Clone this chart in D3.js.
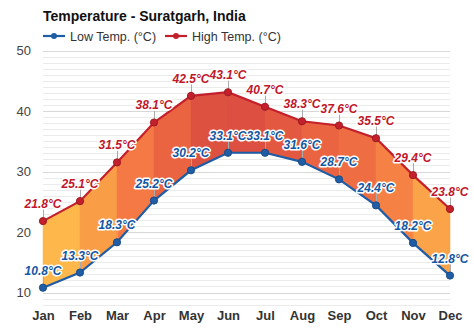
<!DOCTYPE html>
<html>
<head>
<meta charset="utf-8">
<script src="https://cdn.jsdelivr.net/npm/d3@7"></script>
<style>
  html, body { margin: 0; padding: 0; background: #fff; }
  svg { display: block; font-family: "Liberation Sans", Arial, sans-serif; }
</style>
</head>
<body>
<svg id="chart" width="474" height="331"></svg>
<script>
const months = ["Jan","Feb","Mar","Apr","May","Jun","Jul","Aug","Sep","Oct","Nov","Dec"];
const lowTemps = [10.8, 13.3, 18.3, 25.2, 30.2, 33.1, 33.1, 31.6, 28.7, 24.4, 18.2, 12.8];
const highTemps = [21.8, 25.1, 31.5, 38.1, 42.5, 43.1, 40.7, 38.3, 37.6, 35.5, 29.4, 23.8];
const yTicks = [10, 20, 30, 40, 50];
const titleText = "Temperature - Suratgarh, India";
const seriesNames = ["Low Temp. (°C)", "High Temp. (°C)"];

const svg = d3.select("#chart");
const x = d3.scalePoint().domain(months).range([43, 450]);
const y = d3.scaleLinear().domain([8, 50]).range([304.6, 50.5]);

const lowColor = "#1f5da6";
const highColor = "#c4202b";

// colour of the band between two months, by average temperature
const bandColor = d3.scaleLinear()
  .domain([17.5, 22, 28, 34, 37.5])
  .range(["#fdb84b", "#f99d47", "#f47a45", "#ea6442", "#dc4f41"])
  .clamp(true);

// gridlines
const minor = d3.range(8, 51, 1);
svg.append("g").selectAll("line").data(minor).join("line")
  .attr("x1", 43).attr("x2", 450)
  .attr("y1", d => Math.round(y(d)) + 0.5).attr("y2", d => Math.round(y(d)) + 0.5)
  .attr("stroke", d => d % 10 === 0 ? "#d8d8d8" : "#ebebeb")
  .attr("stroke-width", 1);

// y axis labels
const yAxis = d3.axisLeft(y).tickValues(yTicks).tickSize(0).tickPadding(0);
const yg = svg.append("g").attr("transform", "translate(31,0)").call(yAxis);
yg.select(".domain").remove();
yg.selectAll("text").attr("font-size", 13).attr("fill", "#444")
  .attr("font-family", "\"Liberation Sans\", Arial, sans-serif");

// x axis labels
const xAxis = d3.axisBottom(x).tickSize(0).tickPadding(0);
const xg = svg.append("g").attr("transform", "translate(0,311)").call(xAxis);
xg.select(".domain").remove();
xg.selectAll("text").attr("font-size", 13).attr("font-weight", "bold").attr("fill", "#333")
  .attr("font-family", "\"Liberation Sans\", Arial, sans-serif");

// bands between lines
const segs = d3.range(months.length - 1);
const segColor = i => bandColor((highTemps[i] + highTemps[i+1] + lowTemps[i] + lowTemps[i+1]) / 4);
svg.append("g").selectAll("path").data(segs).join("path")
  .attr("d", i => {
    const pts = [
      [x(months[i]), y(highTemps[i])],
      [x(months[i+1]), y(highTemps[i+1])],
      [x(months[i+1]), y(lowTemps[i+1])],
      [x(months[i]), y(lowTemps[i])]
    ];
    return "M" + pts.map(p => p.join(",")).join("L") + "Z";
  })
  .attr("fill", segColor)
  .attr("stroke", segColor)
  .attr("stroke-width", 0.5);

// leader lines
const leaderOffset = 12;
function leaders(vals) {
  svg.append("g").selectAll("line").data(vals).join("line")
    .attr("x1", (d, i) => x(months[i]) + 0.5).attr("x2", (d, i) => x(months[i]) + 0.5)
    .attr("y1", d => y(d) - leaderOffset).attr("y2", d => y(d))
    .attr("stroke", "#aaa").attr("stroke-width", 1);
}
leaders(highTemps);
leaders(lowTemps);

// lines
const line = d3.line().x((d, i) => x(months[i])).y(d => y(d));
svg.append("path").datum(highTemps).attr("d", line)
  .attr("fill", "none").attr("stroke", highColor).attr("stroke-width", 2.2);
svg.append("path").datum(lowTemps).attr("d", line)
  .attr("fill", "none").attr("stroke", lowColor).attr("stroke-width", 2.2);

// markers
function markers(vals, c) {
  svg.append("g").selectAll("circle").data(vals).join("circle")
    .attr("cx", (d, i) => x(months[i])).attr("cy", d => y(d)).attr("r", 3.6)
    .attr("fill", c).attr("stroke", d3.color(c).darker(0.6)).attr("stroke-width", 1);
}
markers(highTemps, highColor);
markers(lowTemps, lowColor);

// labels
function labels(vals, c) {
  const g = svg.append("g");
  const sel = g.selectAll("text").data(vals).join("text")
    .attr("x", (d, i) => x(months[i])).attr("y", d => y(d) - 13)
    .attr("text-anchor", "middle")
    .attr("font-size", 12).attr("font-weight", "bold").attr("font-style", "italic")
    .text(d => d.toFixed(1) + "°C");
  sel.clone(true).lower().attr("fill", "none").attr("stroke", "#fff")
    .attr("stroke-width", 3).attr("stroke-linejoin", "round");
  sel.attr("fill", c);
}
labels(highTemps, "#c0172a");
labels(lowTemps, "#1457a3");

// title
svg.append("text").attr("x", 43).attr("y", 21)
  .attr("font-size", 14).attr("font-weight", "bold").attr("fill", "#111")
  .text(titleText);

// legend
const legend = svg.append("g").attr("transform", "translate(0,36)");
const legItems = [
  {name: seriesNames[0], c: lowColor, x0: 43},
  {name: seriesNames[1], c: highColor, x0: 165}
];
legItems.forEach(it => {
  legend.append("line").attr("x1", it.x0).attr("x2", it.x0 + 22).attr("y1", 0).attr("y2", 0)
    .attr("stroke", it.c).attr("stroke-width", 2.2);
  legend.append("circle").attr("cx", it.x0 + 11).attr("cy", 0).attr("r", 3)
    .attr("fill", it.c);
  legend.append("text").attr("x", it.x0 + 27).attr("y", 4.5)
    .attr("font-size", 12.5).attr("fill", "#333").text(it.name);
});
</script>
</body>
</html>
